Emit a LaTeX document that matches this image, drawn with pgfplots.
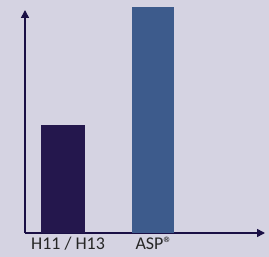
\documentclass[border=0pt]{standalone}
\usepackage{pgfplots}
\pgfplotsset{compat=1.18}
\usepackage{fontspec}
\setmainfont{Carlito}
\usetikzlibrary{arrows.meta}
\definecolor{bgc}{HTML}{D5D3E2}
\definecolor{axc}{HTML}{1A0F45}
\definecolor{barA}{HTML}{24174D}
\definecolor{barB}{HTML}{3D5B8C}
\begin{document}
\begin{tikzpicture}[x=1bp,y=1bp]
\path[fill=bgc] (0,0) rectangle (269,257);
\begin{axis}[
  at={(25bp,24bp)}, anchor=origin,
  scale only axis, width=240bp, height=223bp,
  xmin=0, xmax=240, ymin=0, ymax=223,
  axis x line=bottom, axis y line=left,
  axis line style={line width=1.5bp, draw=axc, -{Triangle[length=8bp,width=8bp]}},
  clip=false,
  ytick=\empty,
  xtick={43,129}, xticklabels={H11 / H13, ASP®},
  major tick length=0pt,
  xticklabel style={font=\fontsize{18}{20}\selectfont, text=black!85, inner sep=2bp, yshift=-2bp},
  ybar, bar shift=0pt,
]
\addplot[fill=barA, draw=none, bar width=44] coordinates {(38,108)};
\addplot[fill=barB, draw=none, bar width=42] coordinates {(128,226)};
\end{axis}
\end{tikzpicture}
\end{document}
